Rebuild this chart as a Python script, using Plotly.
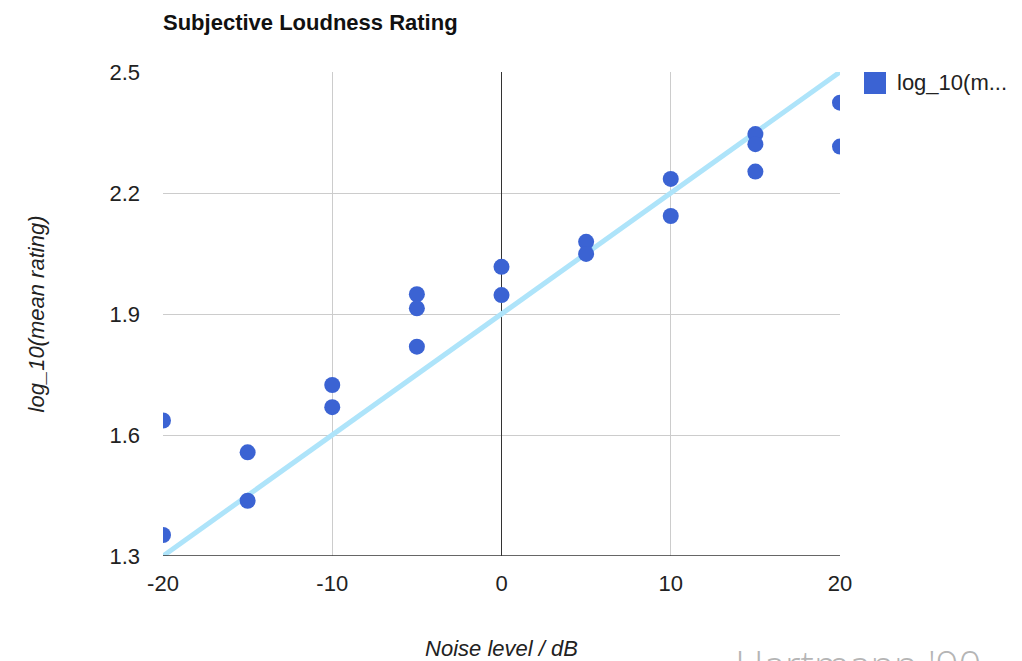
import plotly.graph_objects as go

# Noise level (dB) and log10 of the mean loudness rating per trial
noise_db = [-20, -20, -15, -15, -10, -10, -5, -5, -5, 0, 0, 5, 5, 10, 10, 15, 15, 15, 20, 20]
log_rating = [1.636, 1.352, 1.557, 1.437, 1.724, 1.669, 1.949, 1.914, 1.819,
              2.017, 1.947, 2.079, 2.049, 2.235, 2.143, 2.346, 2.321, 2.253, 2.424, 2.315]

# Linear trend line endpoints
trend_x = [-20, 20]
trend_y = [1.3, 2.5]

x_ticks = [-20, -10, 0, 10, 20]
x_labels = ["-20", "-10", "0", "10", "20"]
y_ticks = [1.3, 1.6, 1.9, 2.2, 2.5]
y_labels = ["1.3", "1.6", "1.9", "2.2", "2.5"]

series_name = "log_10(m..."
dot_color = "#3b63d3"
trend_color = "#aee4fa"

W, H = 1022, 661
L, R, T, B = 163, 182, 72, 105
plot_w = W - L - R
plot_h = H - T - B

fig = go.Figure()
fig.add_trace(go.Scatter(
    x=trend_x, y=trend_y, mode="lines",
    line=dict(color=trend_color, width=5),
    showlegend=False, hoverinfo="skip",
))
fig.add_trace(go.Scatter(
    x=noise_db, y=log_rating, mode="markers",
    marker=dict(color=dot_color, size=16),
    name=series_name, showlegend=False,
))

base_font = "Liberation Sans, Arial, sans-serif"

fig.update_layout(
    width=W, height=H,
    margin=dict(l=L, r=R, t=T, b=B, autoexpand=False),
    paper_bgcolor="white", plot_bgcolor="white",
    font=dict(family=base_font, color="#222222", size=22),
    title=dict(text="<b>Subjective Loudness Rating</b>", x=L / W, xanchor="left",
               y=1 - 22 / H, yanchor="middle",
               font=dict(size=22, color="#111111")),
    showlegend=False,
    xaxis=dict(
        range=[-20, 20], tickvals=x_ticks, ticktext=x_labels,
        showgrid=True, gridcolor="#cccccc", gridwidth=1,
        zeroline=True, zerolinecolor="#333333", zerolinewidth=1,
        showline=False, ticks="", ticklabelstandoff=12, automargin=False,
        title=dict(text="<i>Noise level / dB</i>", standoff=50, font=dict(size=22)),
    ),
    yaxis=dict(
        range=[1.3, 2.5], tickvals=y_ticks, ticktext=y_labels,
        showgrid=True, gridcolor="#cccccc", gridwidth=1,
        zeroline=False, showline=False, ticks="", ticklabelstandoff=22, automargin=False,
        title=dict(text="<i>log_10(mean rating)</i>", standoff=58, font=dict(size=22)),
    ),
    shapes=[
        dict(type="line", xref="paper", yref="y", x0=0, x1=1, y0=1.3, y1=1.3,
             line=dict(color="#333333", width=1.5)),
        # legend swatch
        dict(type="rect", xref="paper", yref="paper",
             x0=(864 - L) / plot_w, x1=(886 - L) / plot_w,
             y0=1 - (94 - T) / plot_h, y1=1 - (72 - T) / plot_h,
             fillcolor=dot_color, line=dict(width=0)),
    ],
    annotations=[
        dict(text=series_name, xref="paper", yref="paper",
             x=(895 - L) / plot_w, y=1 - (83 - T) / plot_h,
             xanchor="left", yanchor="middle", showarrow=False,
             font=dict(size=22, color="#222222")),
        dict(text="Hartmann '90", xref="paper", yref="paper",
             x=(733 - L) / plot_w, y=-(635 - (H - B)) / plot_h,
             xanchor="left", yanchor="top", showarrow=False,
             font=dict(family="Open Sans, sans-serif", size=40, color="#b5b5b5",
                       weight=300)),
    ],
)

fig.write_html("out.html")
